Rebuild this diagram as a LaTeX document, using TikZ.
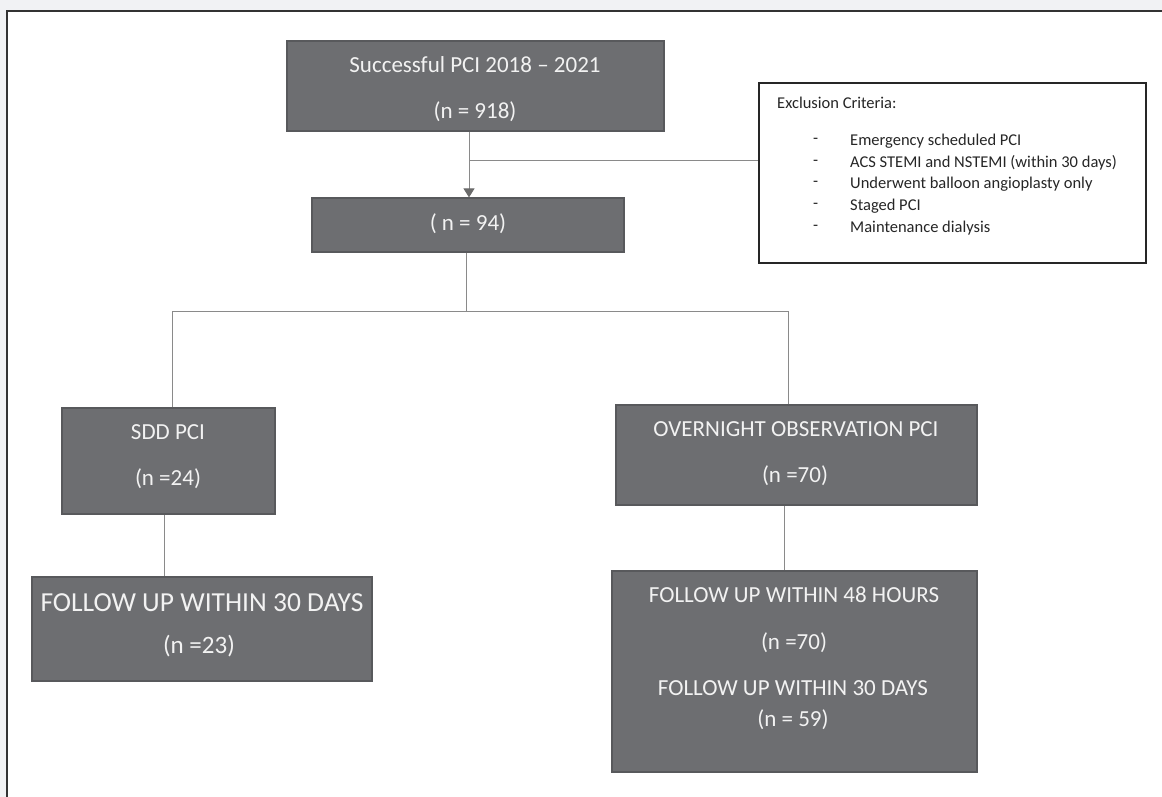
\documentclass[tikz,border=0pt]{standalone}
\usepackage{fontspec}
\setmainfont{Carlito}
\usetikzlibrary{arrows.meta}
\definecolor{bgout}{HTML}{F1F2F4}
\definecolor{boxfill}{HTML}{6D6E71}
\definecolor{boxline}{HTML}{58595C}
\definecolor{txt}{HTML}{F2F2F2}
\definecolor{conn}{HTML}{8A8A8A}
\definecolor{tipc}{HTML}{6A6A6A}
\definecolor{frame}{HTML}{333333}
\tikzset{
  graybox/.style={draw=boxline, line width=1.2pt, fill=boxfill, inner sep=0pt},
  wtext/.style={text=txt, font=\fontsize{23}{27}\selectfont, inner sep=0pt, anchor=center},
  ltext/.style={text=black!85, font=\fontsize{16.5}{19}\selectfont, inner sep=0pt, anchor=west},
  conline/.style={draw=conn, line width=1pt},
}
\begin{document}
\begin{tikzpicture}[x=1pt,y=-1pt]
\useasboundingbox (0,0) rectangle (1162,797);
\fill[bgout] (0,0) rectangle (1162,797);
\fill[white] (7,11) rectangle (1162,797);
\draw[frame, line width=1.5pt] (7,797) -- (7,11) -- (1162,11);

% boxes
\node[graybox, minimum width=377pt, minimum height=90pt] (top) at (475.5,86) {};
\node[graybox, minimum width=312pt, minimum height=54pt] (n94) at (468,225) {};
\node[draw=black!85, line width=1.8pt, fill=white, inner sep=0pt, minimum width=387pt, minimum height=180pt] (excl) at (952.5,173) {};
\node[graybox, minimum width=213pt, minimum height=106pt] (sdd) at (168.5,461) {};
\node[graybox, minimum width=340pt, minimum height=104pt] (fu30) at (202,629) {};
\node[graybox, minimum width=361pt, minimum height=100pt] (on) at (796.5,455) {};
\node[graybox, minimum width=365pt, minimum height=201pt] (fu48) at (794.5,671.5) {};

% texts
\node[wtext] (t1) at (475,65) {Successful PCI 2018 – 2021};
\node[wtext] (t2) at (475,112) {(n = 918)};
\node[wtext] (t3) at (468,224) {( n = 94)};
\node[ltext] (e0) at (777,103) {Exclusion Criteria:};
\foreach \yy/\tt [count=\i] in {141/Emergency scheduled PCI, 163/ACS STEMI and NSTEMI (within 30 days), 184/Underwent balloon angioplasty only, 206/Staged PCI, 228/Maintenance dialysis}{
  \node[ltext] (d\i) at (813,\yy) {-};
  \node[ltext] (e\i) at (850,\yy) {\tt};
}
\node[wtext] (s1) at (168,432) {SDD PCI};
\node[wtext] (s2) at (168,479) {(n =24)};
\node[wtext, font=\fontsize{27.5}{32}\selectfont] (f1) at (202,603) {FOLLOW UP WITHIN 30 DAYS};
\node[wtext, font=\fontsize{25}{30}\selectfont] (f2) at (199,646) {(n =23)};
\node[wtext] (o1) at (796,429) {OVERNIGHT OBSERVATION PCI};
\node[wtext] (o2) at (795,476) {(n =70)};
\node[wtext] (g1) at (794,595) {FOLLOW UP WITHIN 48 HOURS};
\node[wtext] (g2) at (794,643) {(n =70)};
\node[wtext] (g3) at (793,688) {FOLLOW UP WITHIN 30 DAYS};
\node[wtext] (g4) at (793,720) {(n = 59)};

% connectors
\coordinate (tx) at (469,161);
\draw[conline, -{Triangle[length=9pt,width=11pt,fill=tipc,color=tipc]}] (tx |- top.south) -- (tx |- n94.north);
\draw[conline] (tx) -- (tx -| excl.west);
\coordinate (bx) at (466,311);
\coordinate (lx) at (172,311);
\coordinate (rx) at (788,311);
\draw[conline] (bx |- n94.south) -- (bx);
\draw[conline] (lx) -- (rx);
\draw[conline] (lx) -- (lx |- sdd.north);
\draw[conline] (rx) -- (rx |- on.north);
\coordinate (sx) at (164,0);
\draw[conline] (sx |- sdd.south) -- (sx |- fu30.north);
\coordinate (ox) at (784,0);
\draw[conline] (ox |- on.south) -- (ox |- fu48.north);
\end{tikzpicture}
\end{document}
